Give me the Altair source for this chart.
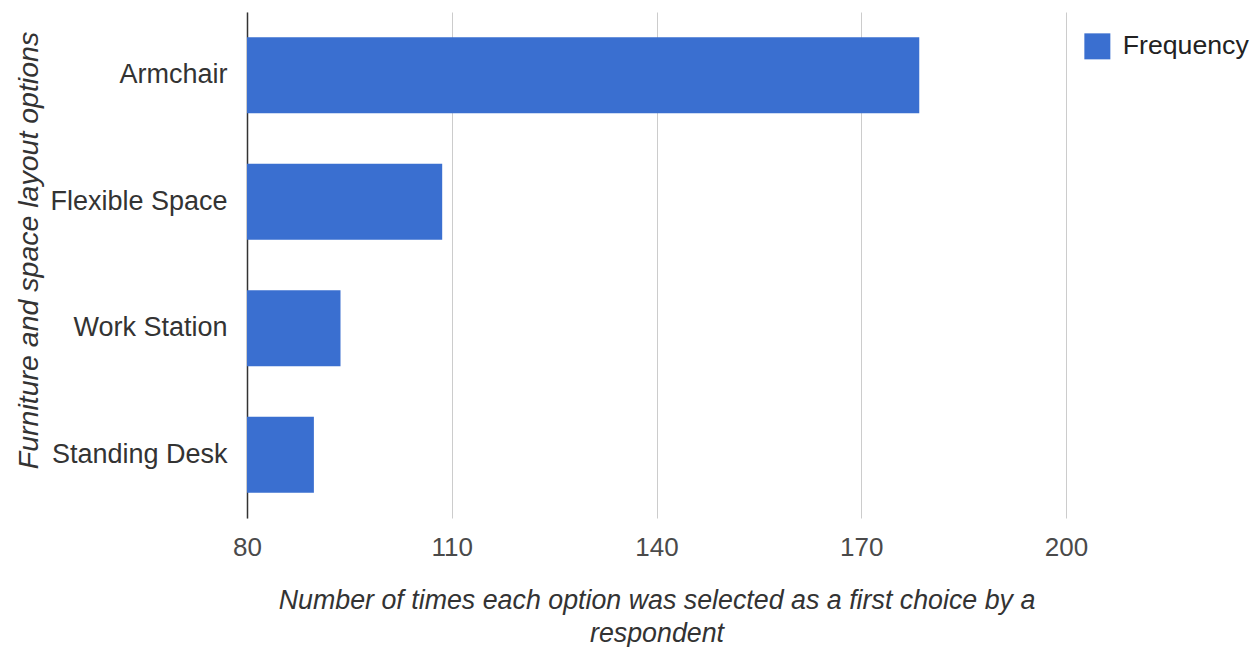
import altair as alt
import pandas as pd

# Survey results: first-choice counts per furniture / layout option
options = ["Armchair", "Flexible Space", "Work Station", "Standing Desk"]
frequency = [178.5, 108.6, 93.7, 89.8]
x_ticks = [80, 110, 140, 170, 200]

df = pd.DataFrame({"option": options, "count": frequency, "series": ["Frequency"] * len(options)})

FONT = "Liberation Sans"
BAR = "#3a6fd0"

bars = alt.Chart(df).mark_bar(color=BAR, clip=True).encode(
    y=alt.Y(
        "option:N",
        sort=options,
        scale=alt.Scale(paddingInner=0.4, paddingOuter=0.2),
        axis=alt.Axis(
            title="Furniture and space layout options",
            titleFont=FONT,
            titleFontSize=28.5,
            titleFontStyle="italic",
            titleFontWeight="normal",
            titleColor="#333333",
            titleX=-219,
            titleY=238,
            titleAngle=-90,
            titleAlign="center",
            titleBaseline="middle",
            labelFont=FONT,
            labelFontSize=27,
            labelColor="#333333",
            labelPadding=20,
            ticks=False,
            domain=True,
            domainColor="#333333",
            domainWidth=1.5,
            grid=False,
        ),
    ),
    x=alt.X(
        "count:Q",
        scale=alt.Scale(domain=[80, 200], nice=False, zero=False),
        axis=alt.Axis(
            values=x_ticks,
            title=["Number of times each option was selected as a first choice by a", "respondent"],
            titleFont=FONT,
            titleFontSize=26.8,
            titleFontStyle="italic",
            titleFontWeight="normal",
            titleColor="#333333",
            titleLineHeight=33,
            titlePadding=27,
            labelFont=FONT,
            labelFontSize=26,
            labelColor="#4a4a4a",
            labelPadding=16,
            labelAlign="center",
            labelFlush=False,
            ticks=False,
            domain=False,
            grid=True,
            gridColor="#cccccc",
            gridWidth=1,
        ),
    ),
    fill=alt.Fill(
        "series:N",
        scale=alt.Scale(domain=["Frequency"], range=[BAR]),
        legend=alt.Legend(
            title=None,
            orient="none",
            legendX=837,
            legendY=21,
            symbolType="square",
            symbolSize=676,
            symbolStrokeWidth=0,
            labelFont=FONT,
            labelFontSize=26.7,
            labelColor="#222222",
            labelOffset=12,
            labelLimit=300,
            padding=0,
        ),
    ),
)

chart = bars.properties(
    width=819,
    height=506,
    background="white",
    autosize=alt.AutoSizeParams(type="none"),
    padding={"left": 247, "top": 12, "right": 186, "bottom": 129},
).configure_view(stroke=None)

chart.save("out.html", embed_options={"renderer": "svg", "actions": False})
